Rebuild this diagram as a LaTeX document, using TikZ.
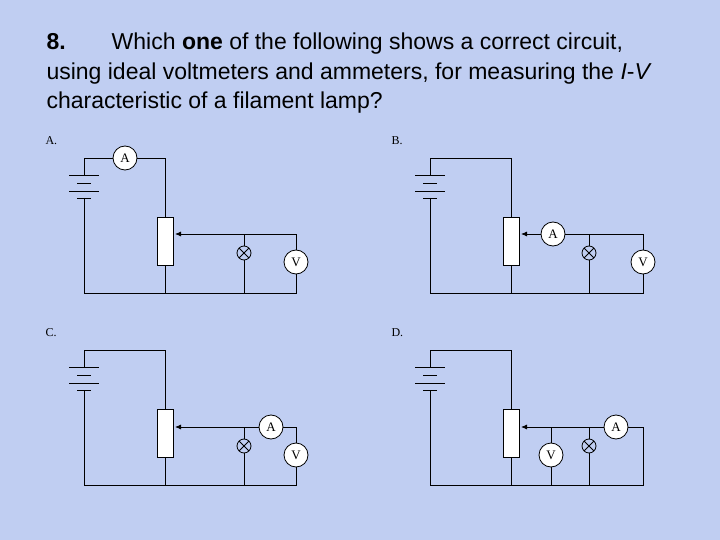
\documentclass[tikz,border=0pt]{standalone}
\usepackage{fontspec}
\setmainfont{Liberation Sans}
\newfontfamily\labfont{Liberation Serif}
\usetikzlibrary{arrows.meta}
\definecolor{bgblue}{RGB}{192,206,242}

\tikzset{
  meter/.style={circle, draw=black, fill=white, thick, minimum size=24pt, inner sep=0pt, font=\labfont\fontsize{13}{13}\selectfont},
  lamp/.style={circle, draw=black, thick, minimum size=14pt, inner sep=0pt,
    path picture={\draw[thick] (path picture bounding box.north west) -- (path picture bounding box.south east)
      (path picture bounding box.north east) -- (path picture bounding box.south west);}},
  rheo/.style={rectangle, draw=black, fill=white, thick, minimum width=16pt, minimum height=48pt, inner sep=0pt},
  wire/.style={thick},
  panel/.style={font=\labfont\fontsize{12}{12}\selectfont, anchor=west},
  question/.style={anchor=base west, font=\fontsize{23}{23}\selectfont},
}

% battery, rheostat and the outer loop of one panel
\newcommand{\basecircuit}{
  \node[rheo] (rh) at (165,241) {};
  \coordinate (tl) at (84,158);
  \coordinate (tr) at (165,158);
  \coordinate (bl) at (84,293);
  \coordinate (bm) at (165,293);
  \coordinate (cp) at (84,175);
  \coordinate (cn) at (84,198);
  \draw[wire] (69,175) -- (99,175) (69,191) -- (99,191);
  \draw[wire] (77,183) -- (91,183) (77,198) -- (91,198);
  \draw[wire] (cn) -- (bl) -- (bm) -- (rh.south);
  \coordinate (sl) at (175,234);
}

\begin{document}
\begin{tikzpicture}[x=1pt,y=-1pt]
\fill[bgblue] (0,0) rectangle (720,540);
\useasboundingbox (0,0) rectangle (720,540);

\node[question] (q1) at (43,50) {\textbf{8.}\hspace{46pt}Which \textbf{one} of the following shows a correct circuit,};
\node[question] (q2) at (43,80) {using ideal voltmeters and ammeters, for measuring the \textit{I}-\textit{V}};
\node[question] (q3) at (43,109) {characteristic of a filament lamp?};

% A
\begin{scope}
\basecircuit
\node[panel] (la) at (42,141) {A.};
\node[meter] (am) at (125,158) {A};
\draw[wire] (cp) -- (tl) -- (am) -- (tr) -- (rh.north);
\node[lamp] (lp) at (244,253) {};
\node[meter] (vm) at (296,262) {V};
\coordinate (jl) at (244,234);
\coordinate (jr) at (296,234);
\draw[wire, -{Latex[length=6pt,width=5pt]}] (jr) -- (sl);
\draw[wire] (jl) -- (lp) -- (244,293);
\draw[wire] (jr) -- (vm) -- (296,293) -- (bm);
\end{scope}

% B
\begin{scope}[shift={(346,0)}]
\basecircuit
\node[panel] (lb) at (42,141) {B.};
\draw[wire] (cp) -- (tl) -- (tr) -- (rh.north);
\node[meter] (am) at (207,234) {A};
\node[lamp] (lp) at (243,253) {};
\node[meter] (vm) at (297,262) {V};
\coordinate (jl) at (243,234);
\coordinate (jr) at (297,234);
\draw[wire, -{Latex[length=6pt,width=5pt]}] (am) -- (sl);
\draw[wire] (am) -- (jr) -- (vm) -- (297,293) -- (bm);
\draw[wire] (jl) -- (lp) -- (243,293);
\end{scope}

% C
\begin{scope}[shift={(0,192)}]
\basecircuit
\node[panel] (lc) at (42,141) {C.};
\draw[wire] (cp) -- (tl) -- (tr) -- (rh.north);
\node[lamp] (lp) at (244,254) {};
\node[meter] (am) at (271,235) {A};
\node[meter] (vm) at (296,263) {V};
\coordinate (jl) at (244,235);
\coordinate (jr) at (296,235);
\draw[wire, -{Latex[length=6pt,width=5pt]}] (jl) -- (sl |- jl);
\draw[wire] (jl) -- (am) -- (jr) -- (vm) -- (296,293) -- (bm);
\draw[wire] (jl) -- (lp) -- (244,293);
\end{scope}

% D
\begin{scope}[shift={(346,192)}]
\basecircuit
\node[panel] (ld) at (42,141) {D.};
\draw[wire] (cp) -- (tl) -- (tr) -- (rh.north);
\node[meter] (vm) at (205,263) {V};
\node[lamp] (lp) at (243,254) {};
\node[meter] (am) at (270,235) {A};
\coordinate (jv) at (205,235);
\coordinate (jl) at (243,235);
\coordinate (jr) at (297,235);
\draw[wire, -{Latex[length=6pt,width=5pt]}] (jl) -- (sl |- jl);
\draw[wire] (jl) -- (am) -- (jr) -- (297,293) -- (bm);
\draw[wire] (jv) -- (vm) -- (205,293);
\draw[wire] (jl) -- (lp) -- (243,293);
\end{scope}
\end{tikzpicture}
\end{document}
